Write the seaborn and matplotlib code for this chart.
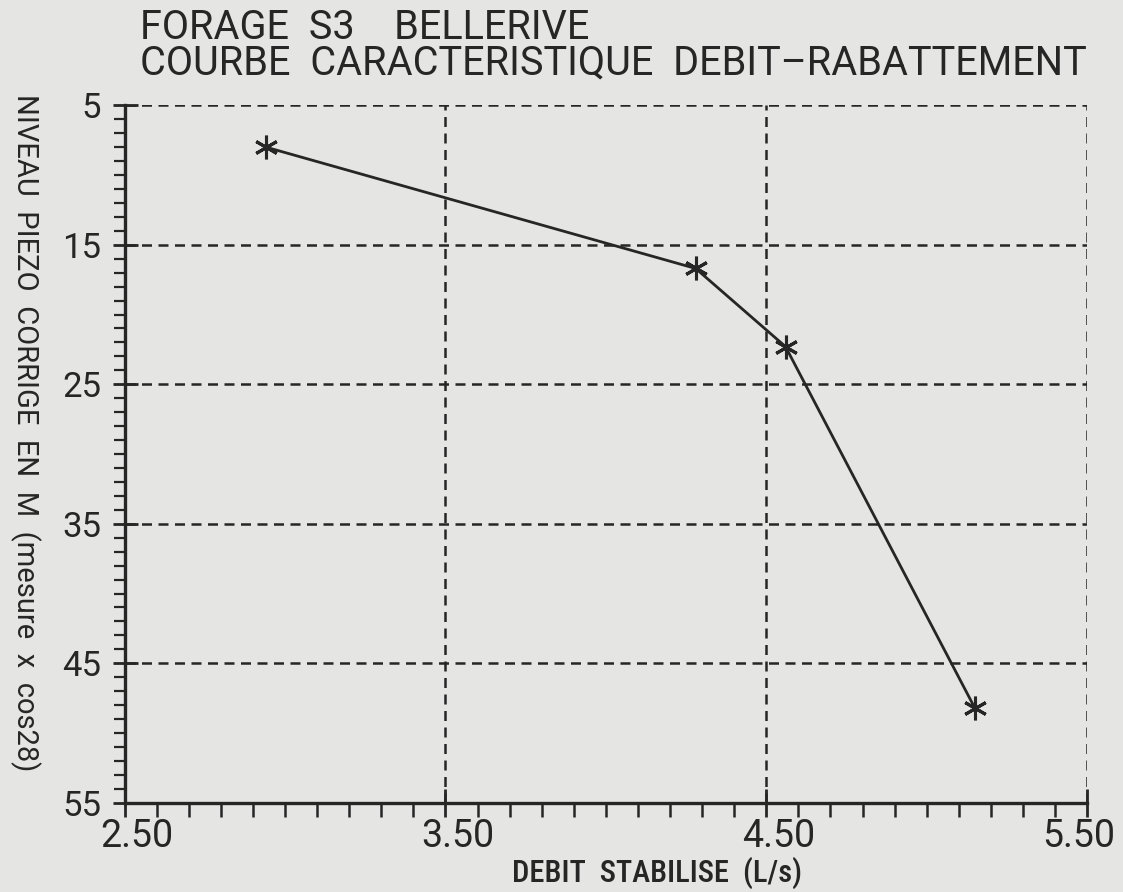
import numpy as np
import pandas as pd
import matplotlib
matplotlib.use('Agg')
import matplotlib.pyplot as plt
import matplotlib.transforms as mtrans
import seaborn as sns
from matplotlib.ticker import MultipleLocator, FormatStrFormatter

# data
debit = [2.94, 4.28, 4.56, 5.15]
niveau = [8.0, 16.7, 22.3, 48.2]
x_ticks = [2.5, 3.5, 4.5, 5.5]
y_ticks = [5, 15, 25, 35, 45, 55]

title_lines = ['FORAGE  S3    BELLERIVE', 'COURBE  CARACTERISTIQUE  DEBIT\u2013RABATTEMENT']
x_label = 'DEBIT  STABILISE  (L/s)'
y_label = 'NIVEAU  PIEZO  CORRIGE  EN  M  (mesure  x  cos28)'

df = pd.DataFrame({'debit': debit, 'niveau': niveau})

sns.set_style('white')
plt.rcParams['font.family'] = ['Roboto', 'DejaVu Sans']
cond = ['Roboto Condensed', 'Roboto', 'DejaVu Sans']
bg = '#e5e5e3'
ink = '#262626'

fig = plt.figure(figsize=(11.23, 8.92), dpi=100, facecolor=bg)
ax = fig.add_axes([0.111, 0.10, 0.857, 0.782])
ax.set_facecolor(bg)

sns.lineplot(data=df, x='debit', y='niveau', ax=ax, color=ink, linewidth=2,
             marker=(6, 2, 0), markersize=17, markeredgewidth=2.2,
             markeredgecolor=ink, sort=False)

ax.set_xlim(2.5, 5.5)
ax.set_ylim(55, 5)
ax.set_xticks(x_ticks)
ax.set_yticks(y_ticks)
ax.xaxis.set_minor_locator(MultipleLocator(0.1))
ax.yaxis.set_minor_locator(MultipleLocator(1))
ax.xaxis.set_major_formatter(FormatStrFormatter('%.2f'))

ax.grid(True, which='major', linestyle=(0, (4, 2.6)), color=ink, linewidth=1.8)
for s in ['top', 'right']:
    ax.spines[s].set_visible(False)
for s in ['left', 'bottom']:
    ax.spines[s].set_color(ink)
    ax.spines[s].set_linewidth(2.4)

ax.tick_params(which='both', bottom=True, left=True)
ax.tick_params(axis='x', which='major', direction='inout', length=20, width=2,
               color=ink, labelsize=27, labelcolor=ink, pad=1)
ax.tick_params(axis='x', which='minor', direction='out', length=10, width=1.8, color=ink)
ax.tick_params(axis='y', which='major', direction='inout', length=18, width=2,
               color=ink, labelsize=25, labelcolor=ink, pad=8)
ax.tick_params(axis='y', which='minor', direction='out', length=8, width=1.6, color=ink)

# the scanned labels sit a little right of their ticks (last one pulled inside)
shifts = [12, 12, 12, -8]
for lab, dx in zip(ax.get_xticklabels(), shifts):
    lab.set_transform(lab.get_transform() + mtrans.ScaledTranslation(dx / 100, 0, fig.dpi_scale_trans))

ax.set_xlabel(x_label, fontsize=22, color=ink, family=cond, fontweight='medium', va='top')
ax.xaxis.set_label_coords(0.553, -0.078)
ax.set_ylabel(y_label, fontsize=21, color=ink, rotation=270, va='center')
ax.yaxis.set_label_coords(-0.103, 0.53)

fig.text(0.1247, 0.956, title_lines[0], fontsize=28.5, color=ink, ha='left', va='baseline')
fig.text(0.1247, 0.916, title_lines[1], fontsize=28.5, color=ink, ha='left', va='baseline')

fig.savefig('out.png', dpi=100, facecolor=bg)
